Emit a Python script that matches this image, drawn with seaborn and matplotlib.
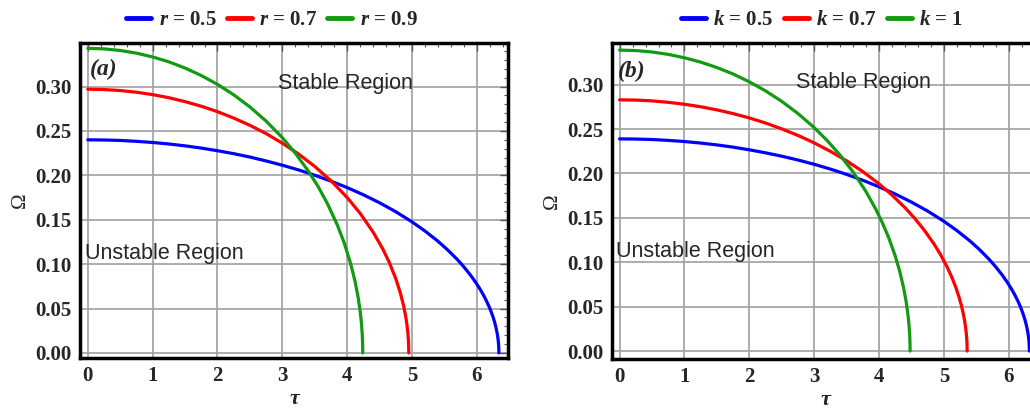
import pandas as pd
import seaborn as sns
import numpy as np
import matplotlib.pyplot as plt
from matplotlib.ticker import MultipleLocator
from matplotlib.lines import Line2D

# ---- data ----
# panel (a): r = 0.5, 0.7, 0.9
tau_a_blue = [0, 0.25, 0.5, 0.75, 1.0, 1.25, 1.5, 1.75, 2.0, 2.25, 2.5, 2.75, 3.0, 3.25, 3.5, 3.75, 4.0, 4.25,
              4.5, 4.75, 5.0, 5.2, 5.4, 5.55, 5.7, 5.8, 5.9, 5.98, 6.05, 6.1, 6.15, 6.19, 6.22, 6.25, 6.27,
              6.29, 6.31, 6.32, 6.33, 6.337, 6.34]
om_a_blue = [0.2400, 0.2398, 0.2393, 0.2383, 0.2370, 0.2353, 0.2332, 0.2307, 0.2277, 0.2244, 0.2206, 0.2162,
             0.2114, 0.2061, 0.2001, 0.1935, 0.1862, 0.1781, 0.1691, 0.1590, 0.1476, 0.1373, 0.1258, 0.1160,
             0.1051, 0.0969, 0.0878, 0.0797, 0.0718, 0.0654, 0.0583, 0.0519, 0.0465, 0.0403, 0.0356, 0.0301,
             0.0233, 0.0190, 0.0135, 0.0074, 0.0]
tau_a_red = [0, 0.25, 0.5, 0.75, 1.0, 1.25, 1.5, 1.75, 2.0, 2.25, 2.5, 2.75, 3.0, 3.25, 3.5, 3.75, 4.0, 4.2,
             4.4, 4.55, 4.65, 4.75, 4.82, 4.87, 4.9, 4.92, 4.935, 4.944, 4.949, 4.95]
om_a_red = [0.2970, 0.2966, 0.2955, 0.2936, 0.2909, 0.2874, 0.2830, 0.2778, 0.2717, 0.2645, 0.2563, 0.2470,
            0.2362, 0.2240, 0.2100, 0.1939, 0.1750, 0.1572, 0.1361, 0.1170, 0.1018, 0.0836, 0.0676, 0.0532,
            0.0421, 0.0326, 0.0231, 0.0146, 0.0060, 0.0]
tau_a_green = [0, 0.25, 0.5, 0.75, 1.0, 1.25, 1.5, 1.75, 2.0, 2.25, 2.5, 2.75, 3.0, 3.2, 3.4, 3.55, 3.7, 3.85,
               3.95, 4.05, 4.12, 4.17, 4.2, 4.22, 4.232, 4.238, 4.24]
om_a_green = [0.3430, 0.3424, 0.3406, 0.3376, 0.3333, 0.3278, 0.3208, 0.3124, 0.3024, 0.2907, 0.2770, 0.2611,
              0.2424, 0.2250, 0.2049, 0.1876, 0.1675, 0.1437, 0.1247, 0.1015, 0.0810, 0.0621, 0.0470, 0.0333,
              0.0211, 0.0105, 0.0]

# panel (b): k = 0.5, 0.7, 1
tau_b_blue = [0, 0.25, 0.5, 0.75, 1.0, 1.25, 1.5, 1.75, 2.0, 2.25, 2.5, 2.75, 3.0, 3.25, 3.5, 3.75, 4.0, 4.25,
              4.5, 4.75, 5.0, 5.2, 5.4, 5.55, 5.7, 5.8, 5.9, 5.98, 6.05, 6.1, 6.15, 6.19, 6.22, 6.25, 6.27,
              6.29, 6.305, 6.315, 6.32]
om_b_blue = [0.2390, 0.2388, 0.2383, 0.2373, 0.2360, 0.2343, 0.2322, 0.2297, 0.2267, 0.2233, 0.2195, 0.2152,
             0.2104, 0.2050, 0.1990, 0.1924, 0.1850, 0.1769, 0.1678, 0.1577, 0.1462, 0.1358, 0.1242, 0.1143,
             0.1032, 0.0949, 0.0857, 0.0773, 0.0691, 0.0625, 0.0551, 0.0482, 0.0423, 0.0355, 0.0300, 0.0233,
             0.0165, 0.0095, 0.0]
tau_b_red = [0, 0.25, 0.5, 0.75, 1.0, 1.25, 1.5, 1.75, 2.0, 2.25, 2.5, 2.75, 3.0, 3.25, 3.5, 3.75, 4.0, 4.2,
             4.4, 4.55, 4.7, 4.85, 4.95, 5.05, 5.12, 5.18, 5.23, 5.27, 5.3, 5.32, 5.34, 5.35, 5.357, 5.36]
om_b_red = [0.2830, 0.2827, 0.2818, 0.2802, 0.2780, 0.2752, 0.2717, 0.2675, 0.2626, 0.2569, 0.2503, 0.2429,
            0.2345, 0.2250, 0.2143, 0.2022, 0.1884, 0.1758, 0.1616, 0.1496, 0.1360, 0.1205, 0.1086, 0.0948,
            0.0837, 0.0727, 0.0619, 0.0516, 0.0422, 0.0345, 0.0244, 0.0173, 0.0095, 0.0]
tau_b_green = [0, 0.25, 0.5, 0.75, 1.0, 1.25, 1.5, 1.75, 2.0, 2.25, 2.5, 2.75, 3.0, 3.2, 3.4, 3.6, 3.8, 3.95,
               4.05, 4.15, 4.25, 4.32, 4.38, 4.42, 4.45, 4.465, 4.475, 4.479, 4.48]
om_b_green = [0.3390, 0.3385, 0.3369, 0.3342, 0.3304, 0.3255, 0.3194, 0.3121, 0.3033, 0.2931, 0.2813, 0.2676,
              0.2518, 0.2372, 0.2207, 0.2018, 0.1796, 0.1599, 0.1449, 0.1277, 0.1072, 0.0898, 0.0712, 0.0553,
              0.0392, 0.0277, 0.0160, 0.0072, 0.0]

labels_a = ["$r$ = 0.5", "$r$ = 0.7", "$r$ = 0.9"]
labels_b = ["$k$ = 0.5", "$k$ = 0.7", "$k$ = 1"]
colors = ["#0000ff", "#ff0000", "#129a12"]


def armar_df(taus, oms, labels):
    partes = []
    for t, o, l in zip(taus, oms, labels):
        partes.append(pd.DataFrame({"tau": t, "omega": o, "serie": l}))
    return pd.concat(partes, ignore_index=True)


df_a = armar_df([tau_a_blue, tau_a_red, tau_a_green], [om_a_blue, om_a_red, om_a_green], labels_a)
df_b = armar_df([tau_b_blue, tau_b_red, tau_b_green], [om_b_blue, om_b_red, om_b_green], labels_b)

sns.set_style("white")
plt.rcParams["font.family"] = ["Liberation Serif", "DejaVu Serif"]
plt.rcParams["mathtext.fontset"] = "custom"
plt.rcParams["mathtext.it"] = "Liberation Serif:italic:bold"
plt.rcParams["mathtext.rm"] = "Liberation Serif:bold"

fig = plt.figure(figsize=(10.3, 4.12), dpi=100)
ax_a = fig.add_axes([0.0777, 0.131, 0.4155, 0.7646])
ax_b = fig.add_axes([0.594, 0.1286, 0.4155, 0.767])


def grafico(ax, df, labels, ylim, tag, stable_xy, unstable_xy, legend_x):
    sns.lineplot(data=df, x="tau", y="omega", hue="serie", hue_order=labels, palette=colors,
                 sort=False, estimator=None, linewidth=2.3, legend=False, ax=ax)
    ax.set_xlim(-0.12, 6.48)
    ax.set_ylim(*ylim)
    ax.xaxis.set_major_locator(MultipleLocator(1))
    ax.xaxis.set_minor_locator(MultipleLocator(0.2))
    ax.yaxis.set_major_locator(MultipleLocator(0.05))
    ax.yaxis.set_minor_locator(MultipleLocator(0.01))
    ax.yaxis.set_major_formatter(plt.FuncFormatter(lambda v, p: f"{v:.2f}"))
    ax.grid(True, which="major", color="#a0a0a0", linewidth=1.2)
    ax.set_axisbelow(True)
    ax.tick_params(which="both", direction="in", top=True, right=True, color="#555555")
    ax.tick_params(which="major", length=6, width=1, labelsize=15, pad=6)
    ax.tick_params(which="minor", length=3, width=0.8)
    for lab in ax.get_xticklabels() + ax.get_yticklabels():
        lab.set_fontweight("bold")
    for sp in ax.spines.values():
        sp.set_linewidth(2.5)
        sp.set_color("black")
    ax.set_xlabel("τ", fontsize=16, fontstyle="italic", fontweight="bold", labelpad=2)
    ax.set_ylabel("Ω", fontsize=15, labelpad=4)
    ax.text(tag[0], tag[1], tag[2], fontsize=17, fontstyle="italic", fontweight="bold", va="center")
    ax.text(stable_xy[0], stable_xy[1], "Stable Region", family="Liberation Sans", fontsize=15.5, va="center")
    ax.text(unstable_xy[0], unstable_xy[1], "Unstable Region", family="Liberation Sans", fontsize=15.5, va="center")
    handles = [Line2D([], [], color=c, linewidth=3.5) for c in colors]
    fig.legend(handles, labels, loc="center", bbox_to_anchor=(legend_x, 0.951), ncol=3, frameon=False,
               handlelength=1.2, handletextpad=0.35, columnspacing=0.5,
               prop={"family": "Liberation Serif", "weight": "bold", "size": 15})


grafico(ax_a, df_a, labels_a, (-0.0057, 0.349), (0.03, 0.319, "(a)"), (2.93, 0.303), (-0.05, 0.1125), 0.264)
grafico(ax_b, df_b, labels_b, (-0.009, 0.347), (-0.03, 0.315, "(b)"), (2.72, 0.303), (-0.06, 0.112), 0.798)

plt.savefig("out.png", dpi=100)
plt.close()
